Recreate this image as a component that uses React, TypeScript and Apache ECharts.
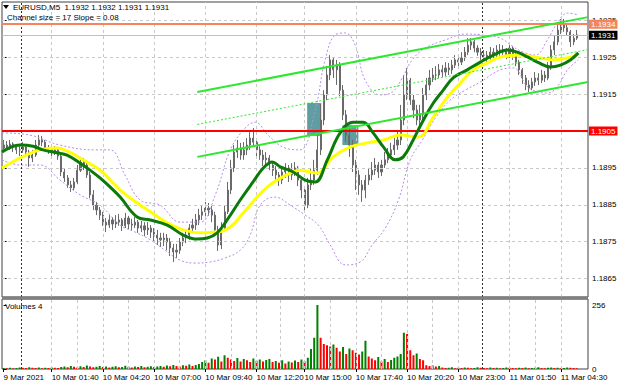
import React, { useEffect, useRef } from "react";
import * as echarts from "echarts";

const FONT = '"Liberation Sans", Arial, sans-serif';

// ---- header texts ----
const headerText = "EURUSD,M5  1.1932 1.1932 1.1931 1.1931";
const channelText = "Channel size = 17 Slope = 0.08";
const volumeTitle = "Volumes 4";

// ---- candles (10-minute buckets) ----
const firstOpen = 1.19004;
const closes = [
  1.19012, 1.19004, 1.19015, 1.19007, 1.18999, 1.18999, 1.19007, 1.18993, 1.18977, 1.18985,
  1.19012, 1.19026, 1.1902, 1.19004, 1.18999, 1.18993, 1.18999, 1.18982, 1.18939, 1.18923,
  1.18904, 1.18896, 1.18912, 1.18944, 1.18966, 1.18958, 1.18931, 1.18877, 1.18849, 1.18836,
  1.18822, 1.18803, 1.18795, 1.18809, 1.18798, 1.18803, 1.18809, 1.18793, 1.18814, 1.18798,
  1.18795, 1.18803, 1.18787, 1.18793, 1.18782, 1.18787, 1.18776, 1.18768, 1.1876, 1.18755,
  1.1876, 1.18749, 1.18733, 1.18722, 1.18727, 1.18749, 1.1876, 1.18768, 1.18787, 1.18795,
  1.18809, 1.18822, 1.18831, 1.18841, 1.18836, 1.18822, 1.18782, 1.18741, 1.18787, 1.18831,
  1.1889, 1.1895, 1.18993, 1.19004, 1.18985, 1.18999, 1.19012, 1.19031, 1.1902, 1.18999,
  1.18985, 1.18972, 1.18977, 1.18958, 1.18944, 1.18931, 1.18917, 1.18939, 1.1895, 1.18931,
  1.18944, 1.1895, 1.18917, 1.1889, 1.18849, 1.18904, 1.18917, 1.18944, 1.18999, 1.1908,
  1.19148, 1.19202, 1.19243, 1.19216, 1.19229, 1.19161, 1.19094, 1.19039, 1.19012, 1.18958,
  1.18931, 1.18904, 1.1889, 1.18917, 1.18931, 1.18944, 1.18958, 1.18939, 1.18958, 1.18972,
  1.18985, 1.18999, 1.19012, 1.19026, 1.1908, 1.19148, 1.19188, 1.19134, 1.19107, 1.1908,
  1.19094, 1.19148, 1.19175, 1.19194, 1.19202, 1.19202, 1.19216, 1.1921, 1.19221, 1.19216,
  1.19229, 1.19243, 1.19237, 1.19248, 1.19264, 1.19283, 1.19292, 1.19275, 1.19264, 1.19256,
  1.19256, 1.19248, 1.19264, 1.19256, 1.1927, 1.19264, 1.1927, 1.19256, 1.19275, 1.19256,
  1.19237, 1.19216, 1.19194, 1.19175, 1.19167, 1.19183, 1.19194, 1.19188, 1.19202, 1.19194,
  1.19221, 1.1927, 1.19292, 1.19324, 1.19338, 1.1933, 1.19319, 1.19292, 1.19302, 1.19311,
];
const highs = [
  1.19026, 1.19023, 1.19026, 1.1902, 1.19015, 1.19012, 1.1902, 1.19009, 1.18999, 1.18999,
  1.19026, 1.19039, 1.19037, 1.19026, 1.19012, 1.19009, 1.19009, 1.19004, 1.18985, 1.1895,
  1.18931, 1.18915, 1.18923, 1.18958, 1.1898, 1.18977, 1.18966, 1.18939, 1.1889, 1.18858,
  1.18844, 1.18831, 1.18814, 1.18822, 1.18817, 1.18822, 1.18825, 1.18814, 1.18828, 1.1882,
  1.18812, 1.18817, 1.18809, 1.18806, 1.18803, 1.18803, 1.18795, 1.18787, 1.18782, 1.18774,
  1.18774, 1.18771, 1.1876, 1.18744, 1.18744, 1.1876, 1.18774, 1.18784, 1.18798, 1.18812,
  1.18825, 1.18839, 1.18847, 1.18858, 1.18855, 1.18847, 1.18831, 1.18793, 1.18803, 1.18849,
  1.18912, 1.18972, 1.19012, 1.19026, 1.19018, 1.1902, 1.19031, 1.19047, 1.19058, 1.19031,
  1.19009, 1.18999, 1.18993, 1.18985, 1.18966, 1.18955, 1.18939, 1.18955, 1.18963, 1.18958,
  1.18963, 1.18966, 1.18955, 1.18923, 1.18901, 1.18923, 1.1895, 1.18972, 1.19039, 1.19123,
  1.19161, 1.19226, 1.19256, 1.19251, 1.19243, 1.19237, 1.19175, 1.19107, 1.19058, 1.19026,
  1.18972, 1.18944, 1.18917, 1.18931, 1.1895, 1.18966, 1.18977, 1.18966, 1.18972, 1.18993,
  1.19004, 1.19018, 1.19031, 1.19053, 1.19121, 1.19202, 1.19221, 1.19194, 1.19148, 1.19121,
  1.19121, 1.19167, 1.19194, 1.19216, 1.19221, 1.19226, 1.19232, 1.19229, 1.19237, 1.19235,
  1.19243, 1.19256, 1.19254, 1.19264, 1.19278, 1.19302, 1.19302, 1.19297, 1.19283, 1.19275,
  1.1927, 1.19267, 1.19278, 1.19275, 1.19283, 1.19286, 1.19283, 1.19275, 1.19286, 1.19281,
  1.19262, 1.19243, 1.19221, 1.19202, 1.19188, 1.19194, 1.1921, 1.19207, 1.19216, 1.19213,
  1.19237, 1.19283, 1.19308, 1.19338, 1.19354, 1.19354, 1.1934, 1.19324, 1.19313, 1.19324,
];
const lows = [
  1.18993, 1.18996, 1.18999, 1.18993, 1.18988, 1.18982, 1.18991, 1.1898, 1.18953, 1.18966,
  1.1898, 1.19007, 1.19009, 1.18996, 1.18988, 1.18982, 1.18985, 1.18972, 1.18928, 1.18912,
  1.18896, 1.18885, 1.1889, 1.18906, 1.18939, 1.18944, 1.18923, 1.18868, 1.18836, 1.18822,
  1.18809, 1.18793, 1.18776, 1.18787, 1.18782, 1.18787, 1.18793, 1.18779, 1.18787, 1.18784,
  1.18782, 1.18787, 1.18774, 1.18776, 1.18765, 1.18768, 1.1876, 1.18752, 1.18741, 1.18736,
  1.18738, 1.18727, 1.18711, 1.18695, 1.18706, 1.18717, 1.18738, 1.18746, 1.18755, 1.18774,
  1.18782, 1.18795, 1.18809, 1.18814, 1.1882, 1.18803, 1.18765, 1.18725, 1.1873, 1.18776,
  1.18825, 1.18879, 1.18939, 1.18977, 1.18972, 1.18972, 1.18985, 1.18999, 1.19009, 1.18982,
  1.18972, 1.18955, 1.18955, 1.18944, 1.18928, 1.18912, 1.18901, 1.18906, 1.18923, 1.18912,
  1.18917, 1.18928, 1.18901, 1.18868, 1.18831, 1.18841, 1.1889, 1.18904, 1.18931, 1.18985,
  1.19066, 1.19134, 1.19188, 1.19194, 1.19175, 1.19145, 1.1908, 1.1902, 1.1898, 1.18939,
  1.1889, 1.18877, 1.18858, 1.18868, 1.18904, 1.18917, 1.18931, 1.18923, 1.18928, 1.1895,
  1.18963, 1.18977, 1.18985, 1.18999, 1.19012, 1.19066, 1.19134, 1.19121, 1.19085, 1.19066,
  1.19058, 1.1908, 1.19134, 1.19161, 1.19183, 1.19188, 1.19194, 1.19197, 1.19199, 1.19202,
  1.19205, 1.19221, 1.19226, 1.19229, 1.1924, 1.19256, 1.1927, 1.19264, 1.19254, 1.19243,
  1.1924, 1.19235, 1.1924, 1.19245, 1.19248, 1.19254, 1.19256, 1.19245, 1.19248, 1.19243,
  1.19226, 1.19202, 1.19178, 1.19161, 1.19156, 1.19161, 1.19172, 1.19175, 1.1918, 1.19183,
  1.19188, 1.19216, 1.19256, 1.19283, 1.19313, 1.19319, 1.19308, 1.19278, 1.19283, 1.19297,
];
const volumes = [
  4, 3, 5, 3, 4, 6, 5, 4, 7, 5, 4, 6, 3, 5, 4, 6, 5, 4,
  8, 10, 7, 12, 9, 6, 11, 8, 14, 10, 7, 9, 12, 8, 10, 6, 9, 11, 7, 8, 13, 9, 6, 10, 8, 12, 7, 9, 11, 8, 10, 12,
  9, 14, 11, 16, 12, 10, 15, 13, 18, 12, 16, 20,
  28, 35, 25, 42, 38, 49, 30, 55, 45,
  38, 32, 44, 30, 40, 35, 28, 42, 33, 38, 30, 36, 40,
  28, 32, 25, 35, 22, 30, 26, 34, 28, 38, 30, 45,
  80, 125, 256, 125, 100, 95, 90, 98, 85,
  70, 88, 60, 82, 75, 65,
  58, 70, 113, 50, 42, 35, 48, 30, 40, 28, 36, 45,
  50, 60, 145, 140, 75, 55, 62, 40, 35,
  15, 12, 14, 10, 12,
  6, 4, 5, 7, 3, 5, 4, 6, 5, 3, 4, 7, 5, 4, 3, 6, 4, 5, 3, 4, 6, 5, 4, 3, 5, 4, 6, 3, 4, 5, 7, 4, 3, 5, 6, 4, 5, 3, 4, 6, 5, 4, 3,
];

// ---- indicators: [bar position, price] ----
const greenMA = [
  [-0.5, 1.18993], [5.1, 1.19012], [9.2, 1.19009], [12.3, 1.18999], [16.7, 1.18991], [19.8, 1.18985],
  [23.9, 1.18963], [27, 1.18944], [30.1, 1.18923], [33.3, 1.18898], [36.4, 1.18871], [41.7, 1.18817],
  [45.8, 1.18809], [51.1, 1.18795], [56.1, 1.18768], [60.4, 1.18757], [63.6, 1.1876], [66.7, 1.18774],
  [69.8, 1.18809], [73.9, 1.18863], [77.9, 1.18912], [81.1, 1.1895], [83.9, 1.18966], [86.4, 1.18953],
  [90.4, 1.18939], [94.2, 1.18917], [97.3, 1.18912], [101.1, 1.18972], [105.1, 1.19045], [109.2, 1.19074],
  [112.3, 1.19074], [115.4, 1.19045], [118.6, 1.19007], [122.3, 1.18972], [124.8, 1.1898], [127.9, 1.19026],
  [131.1, 1.1908], [134.2, 1.19126], [137.3, 1.19161], [140.4, 1.19194], [144.8, 1.19216], [148.9, 1.19237],
  [153, 1.19256], [157.3, 1.1927], [160.4, 1.19264], [163.6, 1.19251], [166.7, 1.19237], [170.8, 1.19224],
  [173.9, 1.19229], [177, 1.19243], [179.5, 1.19262],
];
const yellowMA = [
  [-0.5, 1.1895], [5.1, 1.18977], [9.2, 1.18993], [12.3, 1.19001], [16.7, 1.19004], [19.8, 1.18996],
  [24.8, 1.18972], [30.1, 1.18944], [34.2, 1.18909], [36.4, 1.1889], [40.4, 1.18863], [45.8, 1.18831],
  [51.1, 1.18801], [56.1, 1.18782], [61.4, 1.18774], [66.7, 1.18776], [70.8, 1.1879], [74.8, 1.18828],
  [79.2, 1.18871], [82.3, 1.18898], [85.4, 1.18917], [89.5, 1.18936], [92.6, 1.18944], [97.9, 1.18936],
  [102.9, 1.1898], [108.3, 1.19007], [113.6, 1.19018], [118.6, 1.19026], [123.9, 1.19039], [129.5, 1.19034],
  [134.2, 1.19088], [138.6, 1.19142], [142.6, 1.1918], [146.7, 1.19216], [151, 1.19235], [155.1, 1.19251],
  [161.4, 1.19256], [167.6, 1.19248], [171.7, 1.19243], [176, 1.19248], [179.5, 1.19259],
];
const bandUpper = [
  [-0.5, 1.19045], [8.3, 1.19039], [17.6, 1.19012], [28.6, 1.18999], [33.3, 1.18999], [37.9, 1.18931],
  [42.6, 1.18863], [48.9, 1.18849], [55.1, 1.18803], [61.4, 1.18803], [66.1, 1.18877], [70.8, 1.18999],
  [75.4, 1.19058], [78.6, 1.19074], [82.6, 1.19039], [87.9, 1.19004], [92.6, 1.18999], [97.3, 1.19107],
  [100.4, 1.19243], [103.6, 1.19311], [106.7, 1.19316], [109.8, 1.19283], [112.9, 1.19188], [117.6, 1.19148],
  [121.4, 1.19156], [124.5, 1.19194], [127.6, 1.19243], [131.7, 1.19275], [137.9, 1.19297], [144.2, 1.19313],
  [148.9, 1.19311], [155.1, 1.19302], [159.2, 1.19278], [162.3, 1.19264], [166.1, 1.19256], [169.8, 1.19297],
  [172.9, 1.19343], [176.1, 1.1937], [179.5, 1.19365],
];
const bandLower = [
  [-0.5, 1.18972], [5.1, 1.18958], [11.4, 1.18958], [17.6, 1.18917], [23.9, 1.18877], [30.1, 1.18849],
  [36.4, 1.18795], [41.1, 1.18776], [45.8, 1.18755], [50.4, 1.18727], [55.1, 1.187], [59.8, 1.18692],
  [64.5, 1.18695], [69.2, 1.18706], [73.9, 1.18727], [77, 1.18768], [80.1, 1.18849], [84.8, 1.18871],
  [89.5, 1.18849], [94.2, 1.18822], [98.3, 1.18795], [102, 1.18741], [106.7, 1.18687], [111.4, 1.18695],
  [115.1, 1.18741], [119.2, 1.18787], [123.3, 1.18863], [127, 1.18972], [130.8, 1.19026], [134.8, 1.19085],
  [139.5, 1.19134], [144.2, 1.19161], [148.9, 1.19183], [155.1, 1.19216], [159.2, 1.19221], [163.6, 1.1917],
  [167, 1.19156], [169.8, 1.19153], [172.9, 1.1917], [176.1, 1.19216], [179.5, 1.19243],
];
const channelUpper = [[60.5, 1.19156], [182.5, 1.19359]];
const channelMid = [[60.5, 1.19068], [182.5, 1.19271]];
const channelLower = [[60.5, 1.1898], [182.5, 1.19183]];
// signal boxes: [x0, priceTop, x1, priceBottom]
const signalBoxes = [
  [94.8, 1.19126, 99.2, 1.19037],
  [105.8, 1.19066, 110.8, 1.19012],
];
const levelHigh = 1.1934;
const lastPrice = 1.1931;
const levelSupport = 1.1905;

// ---- axes ----
const PRICE_MIN = 1.186;
const PRICE_MAX = 1.194;
const VOL_MAX = 280;
const priceTicks = [1.1865, 1.1875, 1.1885, 1.1895, 1.1905, 1.1915, 1.1925, 1.1935];
const volumeTicks = [0, 256];
const timeLabels = [
  "9 Mar 2021", "10 Mar 01:40", "10 Mar 04:20", "10 Mar 07:00", "10 Mar 09:40", "10 Mar 12:20",
  "10 Mar 15:00", "10 Mar 17:40", "10 Mar 20:20", "10 Mar 23:00", "11 Mar 01:50", "11 Mar 04:30",
];
const timeLabelIdx = [0, 15, 31, 47, 63, 79, 94, 110, 126, 142, 158, 174];
const dayBreaks = [5.5, 149.5];
const SLOTS = 183;

export default function App() {
  const ref = useRef<HTMLDivElement>(null);
  useEffect(() => {
    if (!ref.current) return;
    const chart = echarts.init(ref.current, null, { renderer: "svg" });
    const cats = Array.from({ length: SLOTS }, (_, i) => String(i));
    const ohlc = closes.map((c, i) => [i === 0 ? firstOpen : closes[i - 1], c, lows[i], highs[i]]);
    const volData = volumes.map((v, i) => ({
      value: v,
      itemStyle: { color: i === 0 || v > volumes[i - 1] ? "#008000" : "#ff0000" },
    }));
    const isLabel = (idx: number) => timeLabelIdx.indexOf(idx) >= 0;
    const gridDash = { color: "#c8c8c8", type: [3, 3] as any, width: 1 };
    const dayDash = { color: "#303030", type: [2, 2] as any, width: 1 };
    const volGridX: number[] = [];
    for (let k = 1; k < timeLabelIdx.length; k++) {
      volGridX.push(timeLabelIdx[k]);
      if (k + 1 < timeLabelIdx.length) {
        const m = (timeLabelIdx[k] + timeLabelIdx[k + 1]) / 2;
        if (!dayBreaks.some((d) => Math.abs(d - m) < 3)) volGridX.push(m);
      }
    }
    // invisible carrier data spanning the axis extents, so that marker lines resolve
    const mainCarrier = [[-0.5, PRICE_MIN], [SLOTS - 0.5, PRICE_MAX]];
    const volCarrier = [[-0.5, 0], [SLOTS - 0.5, VOL_MAX]];
    const hidden = { showSymbol: false, silent: true, lineStyle: { opacity: 0, width: 0 } };
    const ml = { silent: true, symbol: ["none", "none"], animation: false, precision: 6, label: { show: false } };
    const levelLabel = (txt: string, bg: string) => ({
      show: true,
      position: "end",
      formatter: txt,
      backgroundColor: bg,
      color: "#ffffff",
      fontSize: 8,
      fontFamily: FONT,
      padding: [1, 2, 0, 2],
      distance: 1,
    });
    const txt = (text: string, x: number, y: number) => ({
      type: "text",
      x,
      y,
      z: 100,
      style: { text, fontSize: 8, fontFamily: FONT, fill: "#000", verticalAlign: "middle" },
    });
    const candleColor = "#6a6a6a";
    const option: any = {
      animation: false,
      backgroundColor: "#ffffff",
      textStyle: { fontFamily: FONT },
      grid: [
        { left: 2, top: 2, width: 586, height: 295, show: true, borderColor: "#404040", borderWidth: 1, backgroundColor: "#fff" },
        { left: 2, top: 299, width: 586, height: 70, show: true, borderColor: "#404040", borderWidth: 1, backgroundColor: "#fff" },
      ],
      xAxis: [
        { type: "category", gridIndex: 0, data: cats, boundaryGap: true, show: false },
        { type: "value", gridIndex: 0, min: -0.5, max: SLOTS - 0.5, show: false },
        {
          type: "category", gridIndex: 1, data: cats, boundaryGap: true,
          axisLine: { show: false },
          axisTick: { show: true, interval: (i: number) => isLabel(i), alignWithLabel: true, length: 3, lineStyle: { color: "#000" } },
          axisLabel: {
            interval: (i: number) => isLabel(i),
            formatter: (_v: string, i: number) => { const k = timeLabelIdx.indexOf(i); return k >= 0 ? timeLabels[k] : ""; },
            align: "left", fontSize: 8, color: "#000", margin: 4, fontFamily: FONT,
          },
          splitLine: { show: false },
        },
        { type: "value", gridIndex: 1, min: -0.5, max: SLOTS - 0.5, show: false },
      ],
      yAxis: [
        {
          type: "value", gridIndex: 0, position: "right", min: PRICE_MIN, max: PRICE_MAX, interval: 0.0005,
          axisLine: { show: false },
          axisTick: { show: true, customValues: priceTicks, length: 3, lineStyle: { color: "#000" } },
          axisLabel: {
            customValues: priceTicks, fontSize: 8, color: "#000", margin: 4, fontFamily: FONT,
            formatter: (v: number) => { const t = priceTicks.find((p) => Math.abs(p - v) < 1e-7); return t ? t.toFixed(4) : ""; },
          },
          splitLine: { show: false },
        },
        {
          type: "value", gridIndex: 1, position: "right", min: 0, max: VOL_MAX, interval: 256,
          axisLine: { show: false },
          axisTick: { show: true, customValues: volumeTicks, length: 3, lineStyle: { color: "#000" } },
          axisLabel: {
            customValues: volumeTicks, fontSize: 8, color: "#000", margin: 4, fontFamily: FONT,
            formatter: (v: number) => (volumeTicks.indexOf(v) >= 0 ? String(v) : ""),
          },
          splitLine: { show: false },
        },
      ],
      series: [
        {
          type: "line", xAxisIndex: 1, yAxisIndex: 0, data: mainCarrier, z: 1, ...hidden,
          markLine: {
            ...ml,
            data: [
              ...priceTicks.map((v) => ({ yAxis: v, lineStyle: gridDash })),
              ...timeLabelIdx.slice(1).map((x) => ({ xAxis: x, lineStyle: gridDash })),
              ...dayBreaks.map((x) => ({ xAxis: x, lineStyle: dayDash })),
            ],
          },
        },
        {
          type: "line", xAxisIndex: 1, yAxisIndex: 0, data: mainCarrier, z: 2, ...hidden,
          markArea: {
            silent: true,
            itemStyle: { color: "#5f9ea0", opacity: 1 },
            data: signalBoxes.map((b) => [{ coord: [b[0], b[1]] }, { coord: [b[2], b[3]] }]),
          },
        },
        {
          type: "candlestick", xAxisIndex: 0, yAxisIndex: 0, data: ohlc, barWidth: 1.6, z: 3,
          itemStyle: { color: candleColor, color0: candleColor, borderColor: candleColor, borderColor0: candleColor, borderWidth: 1 },
        },
        {
          type: "line", xAxisIndex: 1, yAxisIndex: 0, data: bandUpper, smooth: 0.4, showSymbol: false, z: 4,
          lineStyle: { color: "#b98be8", width: 1, type: [2, 2] },
        },
        {
          type: "line", xAxisIndex: 1, yAxisIndex: 0, data: bandLower, smooth: 0.4, showSymbol: false, z: 4,
          lineStyle: { color: "#b98be8", width: 1, type: [2, 2] },
        },
        {
          type: "line", xAxisIndex: 1, yAxisIndex: 0, data: yellowMA, smooth: 0.4, showSymbol: false, z: 5,
          lineStyle: { color: "#ffff00", width: 3 },
        },
        {
          type: "line", xAxisIndex: 1, yAxisIndex: 0, data: greenMA, smooth: 0.4, showSymbol: false, z: 6,
          lineStyle: { color: "#0b7a0b", width: 3 },
        },
        {
          type: "line", xAxisIndex: 1, yAxisIndex: 0, data: channelUpper, showSymbol: false, z: 6,
          lineStyle: { color: "#2ee82e", width: 2 },
        },
        {
          type: "line", xAxisIndex: 1, yAxisIndex: 0, data: channelMid, showSymbol: false, z: 6,
          lineStyle: { color: "#2ee82e", width: 1, type: [2, 2] },
        },
        {
          type: "line", xAxisIndex: 1, yAxisIndex: 0, data: channelLower, showSymbol: false, z: 6,
          lineStyle: { color: "#2ee82e", width: 2 },
        },
        {
          type: "line", xAxisIndex: 1, yAxisIndex: 0, data: mainCarrier, z: 8, ...hidden,
          markLine: {
            silent: true, symbol: ["none", "none"], animation: false, precision: 6,
            data: [
              { yAxis: lastPrice, lineStyle: { color: "#c0c0c0", width: 1, type: "solid" }, label: levelLabel(lastPrice.toFixed(4), "#000000") },
              { yAxis: levelHigh, lineStyle: { color: "#f5845c", width: 2, type: "solid" }, label: levelLabel(levelHigh.toFixed(4), "#f5845c") },
              { yAxis: levelSupport, lineStyle: { color: "#ff0000", width: 2, type: "solid" }, label: levelLabel(levelSupport.toFixed(4), "#ff0000") },
            ],
          },
        },
        {
          type: "line", xAxisIndex: 3, yAxisIndex: 1, data: volCarrier, z: 1, ...hidden,
          markLine: {
            ...ml,
            data: [
              ...volGridX.map((x) => ({ xAxis: x, lineStyle: gridDash })),
              ...dayBreaks.map((x) => ({ xAxis: x, lineStyle: dayDash })),
            ],
          },
        },
        {
          type: "bar", xAxisIndex: 2, yAxisIndex: 1, data: volData, barWidth: 2, z: 3,
        },
      ],
      graphic: [
        { type: "rect", shape: { x: 2, y: 296.5, width: 586, height: 3 }, style: { fill: "#808080" }, z: 100 },
        { type: "polygon", shape: { points: [[3, 5], [9, 5], [6, 9]] }, style: { fill: "#000" }, z: 100 },
        txt(headerText, 13, 7),
        txt(channelText, 7, 17),
        txt(volumeTitle, 5, 306),
      ],
    };
    chart.setOption(option);
    return () => chart.dispose();
  }, []);
  return (
    <div
      ref={ref}
      style={{ position: "fixed", left: 0, top: 0, width: 620, height: 388, background: "#fff" }}
    />
  );
}
